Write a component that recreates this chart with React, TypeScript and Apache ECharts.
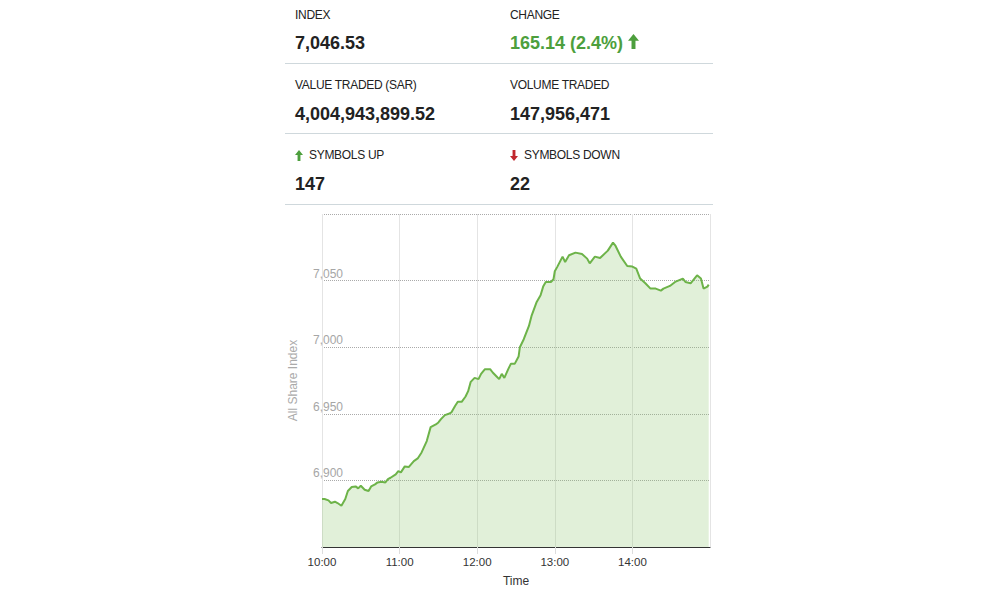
import { useEffect, useRef } from "react";
import * as echarts from "echarts";

// intraday samples
const times = [
  "10:00", "10:02", "10:05", "10:07", "10:10", "10:12", "10:15", "10:18", "10:20", "10:23",
  "10:26", "10:28", "10:30", "10:33", "10:36", "10:38", "10:41", "10:43", "10:46", "10:49",
  "10:51", "10:53", "10:57", "10:59", "11:01", "11:04", "11:07", "11:11", "11:14", "11:17",
  "11:21", "11:24", "11:28", "11:30", "11:32", "11:35", "11:38", "11:40", "11:43", "11:45",
  "11:48", "11:51", "11:53", "11:55", "11:58", "12:01", "12:03", "12:06", "12:10", "12:12",
  "12:15", "12:17", "12:19", "12:21", "12:24", "12:26", "12:29", "12:32", "12:33", "12:36",
  "12:40", "12:42", "12:46", "12:49", "12:51", "12:53", "12:57", "12:59", "13:00", "13:02",
  "13:06", "13:08", "13:11", "13:16", "13:21", "13:25", "13:27", "13:31", "13:35", "13:41",
  "13:45", "13:47", "13:51", "13:56", "14:00", "14:03", "14:06", "14:10", "14:14", "14:18",
  "14:22", "14:24", "14:29", "14:33", "14:39", "14:41", "14:45", "14:50", "14:53", "14:55",
  "14:58", "14:59",
];

const values = [
  6886, 6886, 6885, 6883, 6884, 6883, 6881, 6886, 6892, 6895,
  6895.5, 6894, 6896, 6893, 6892, 6895.5, 6897, 6898.5, 6899, 6898.5,
  6901, 6902, 6904.5, 6907, 6906, 6910.5, 6910, 6914.5, 6916.5, 6921,
  6929.5, 6940, 6942, 6943.5, 6946, 6949, 6950, 6951, 6956, 6959,
  6959, 6963, 6967, 6974, 6977, 6976, 6980, 6983.5, 6983.5, 6981,
  6978, 6976, 6980, 6977, 6983.5, 6987.5, 6987.5, 6993, 7000, 7006,
  7016, 7023.5, 7034, 7039, 7045.5, 7049, 7049, 7051, 7057, 7060.5,
  7068, 7064, 7069, 7071, 7070, 7066.5, 7063, 7068, 7067, 7072.5,
  7078.5, 7076, 7068, 7061, 7060.5, 7059, 7051.5, 7048, 7044, 7044,
  7042.5, 7044, 7046, 7049, 7051.5, 7049, 7048, 7054, 7051.5, 7044,
  7045.5, 7047,
];

const statLabels = [
  "INDEX",
  "CHANGE",
  "VALUE TRADED (SAR)",
  "VOLUME TRADED",
  "SYMBOLS UP",
  "SYMBOLS DOWN",
];
const statValues = [
  "7,046.53",
  "165.14 (2.4%)",
  "4,004,943,899.52",
  "147,956,471",
  "147",
  "22",
];

const FONT = "'Liberation Sans', Arial, sans-serif";
const GREEN = "#4d9f3d";
const RED = "#c1272d";

const toMinutes = (t: string) => {
  const [h, m] = t.split(":").map(Number);
  return h * 60 + m;
};

function Arrow({ up, color, w, h }: { up: boolean; color: string; w: number; h: number }) {
  const head = h * 0.45;
  const shaft = w * 0.36;
  const pts = up
    ? `0,${head} ${w / 2},0 ${w},${head} ${(w + shaft) / 2},${head} ${(w + shaft) / 2},${h} ${(w - shaft) / 2},${h} ${(w - shaft) / 2},${head}`
    : `0,${h - head} ${w / 2},${h} ${w},${h - head} ${(w + shaft) / 2},${h - head} ${(w + shaft) / 2},0 ${(w - shaft) / 2},0 ${(w - shaft) / 2},${h - head}`;
  return (
    <svg width={w} height={h} style={{ display: "block" }}>
      <polygon points={pts} fill={color} />
    </svg>
  );
}

const labelStyle: React.CSSProperties = {
  position: "absolute",
  fontSize: 12,
  lineHeight: "14px",
  letterSpacing: "-0.3px",
  color: "#222",
  whiteSpace: "nowrap",
};

const valueStyle: React.CSSProperties = {
  position: "absolute",
  fontSize: 18,
  lineHeight: "22px",
  fontWeight: "bold",
  color: "#222",
  whiteSpace: "nowrap",
};

const sepStyle = (top: number): React.CSSProperties => ({
  position: "absolute",
  left: 285,
  top,
  width: 428,
  height: 1,
  background: "#cfd8dc",
});

function MarketChart() {
  const chartRef = useRef<HTMLDivElement>(null);

  useEffect(() => {
    if (!chartRef.current) return;
    const chart = echarts.init(chartRef.current, undefined, { renderer: "svg" });

    const data = times.map((t, i) => [toMinutes(t), values[i]]);

    chart.setOption({
      animation: false,
      grid: { left: 322, right: 290, top: 214, bottom: 56 },
      xAxis: {
        type: "value",
        min: 600,
        max: 900,
        interval: 60,
        name: "Time",
        nameLocation: "middle",
        nameGap: 28,
        nameTextStyle: { color: "#333", fontSize: 12, fontFamily: FONT },
        axisLine: { lineStyle: { color: "#333", width: 1.2 } },
        axisTick: { show: true, length: 7, lineStyle: { color: "#ddd" } },
        axisLabel: {
          color: "#333",
          fontSize: 11.5,
          fontFamily: FONT,
          margin: 9,
          showMaxLabel: false,
          formatter: (v: number) => `${Math.floor(v / 60)}:00`,
        },
        splitLine: { show: true, lineStyle: { color: "#e4e4e4" } },
      },
      yAxis: {
        type: "value",
        min: 6850,
        max: 7100,
        interval: 50,
        name: "All Share Index",
        nameLocation: "middle",
        nameGap: 23,
        nameRotate: 90,
        nameTextStyle: { color: "#aaa", fontSize: 12, fontFamily: FONT },
        axisLine: { show: false },
        axisTick: { show: false },
        axisLabel: {
          color: "#a6a6a6",
          fontSize: 12,
          fontFamily: FONT,
          align: "left",
          verticalAlign: "bottom",
          margin: 9,
          padding: [0, 0, 1, 0],
          showMinLabel: false,
          showMaxLabel: false,
          formatter: (v: number) => v.toLocaleString("en-US"),
        },
        splitLine: { show: true, lineStyle: { color: "#aaa", type: "dotted" } },
      },
      series: [
        {
          type: "line",
          data,
          symbol: "none",
          silent: true,
          lineStyle: { color: "#6db349", width: 2 },
          areaStyle: { color: "#8cc56b", opacity: 0.26 },
        },
      ],
    });

    return () => {
      chart.dispose();
    };
  }, []);

  return (
    <div
      ref={chartRef}
      style={{ position: "absolute", left: 0, top: 0, width: 1000, height: 603 }}
    />
  );
}

export default function App() {
  return (
    <div
      style={{
        position: "absolute",
        left: 0,
        top: 0,
        width: 1000,
        height: 603,
        overflow: "hidden",
        background: "#fff",
        fontFamily: FONT,
      }}
    >
      <MarketChart />

      {/* row 1 */}
      <div style={{ ...labelStyle, left: 295, top: 8 }}>{statLabels[0]}</div>
      <div style={{ ...valueStyle, left: 295, top: 32 }}>{statValues[0]}</div>
      <div style={{ ...labelStyle, left: 510, top: 8 }}>{statLabels[1]}</div>
      <div
        style={{
          ...valueStyle,
          left: 510,
          top: 32,
          color: GREEN,
          display: "flex",
          alignItems: "center",
          gap: 5,
        }}
      >
        <span>{statValues[1]}</span>
        <span style={{ marginTop: -4 }}>
          <Arrow up color={GREEN} w={11} h={15} />
        </span>
      </div>
      <div style={sepStyle(63)} />

      {/* row 2 */}
      <div style={{ ...labelStyle, left: 295, top: 78 }}>{statLabels[2]}</div>
      <div style={{ ...valueStyle, left: 295, top: 103 }}>{statValues[2]}</div>
      <div style={{ ...labelStyle, left: 510, top: 78 }}>{statLabels[3]}</div>
      <div style={{ ...valueStyle, left: 510, top: 103 }}>{statValues[3]}</div>
      <div style={sepStyle(133)} />

      {/* row 3 */}
      <div style={{ ...labelStyle, left: 295, top: 148, display: "flex", alignItems: "center", gap: 6 }}>
        <Arrow up color={GREEN} w={8} h={11} />
        <span>{statLabels[4]}</span>
      </div>
      <div style={{ ...valueStyle, left: 295, top: 173 }}>{statValues[4]}</div>
      <div style={{ ...labelStyle, left: 510, top: 148, display: "flex", alignItems: "center", gap: 6 }}>
        <Arrow up={false} color={RED} w={8} h={11} />
        <span>{statLabels[5]}</span>
      </div>
      <div style={{ ...valueStyle, left: 510, top: 173 }}>{statValues[5]}</div>
      <div style={sepStyle(204)} />
    </div>
  );
}
